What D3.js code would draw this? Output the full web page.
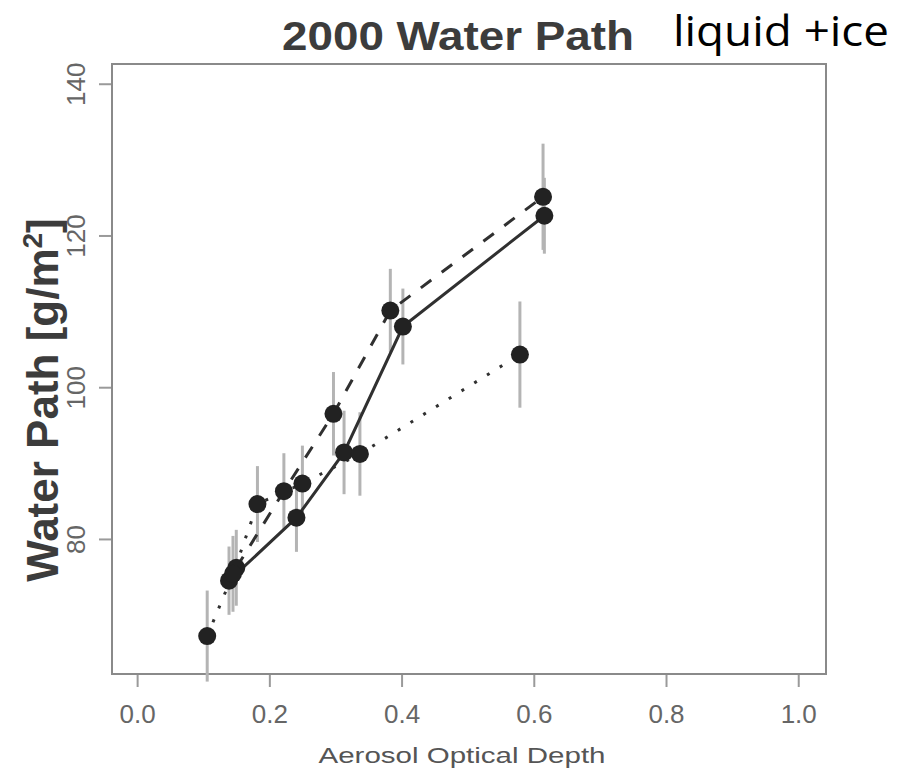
<!DOCTYPE html>
<meta charset="utf-8">
<head>
    <title>2000 Water Path</title>
</head>
<style>
    body { margin: 0; background: #fff; }
    text { font-family: "Liberation Sans", Arial, sans-serif; }
    .frame { fill: none; stroke: #8a8a8a; stroke-width: 2px; }
    .tick line { stroke: #9a9a9a; stroke-width: 2px; }
    .tick text { fill: #666; font-size: 26px; }
    .errbar { stroke: #b4b4b4; stroke-width: 3px; }
    .series { fill: none; stroke: #303030; stroke-width: 3px; }
    .dot { fill: #222; }
</style>
<script src="https://d3js.org/d3.v7.min.js"></script>
<div id="my_viz"></div>
<script>

    // tick labels
    var xTicks = [0.0, 0.2, 0.4, 0.6, 0.8, 1.0];
    var yTicks = [80, 100, 120, 140];

    // solid series
    var solidX   = [0.139, 0.241, 0.313, 0.402, 0.616];
    var solidY   = [74.5, 82.8, 91.4, 108.0, 122.6];
    var solidErr = [4.5, 4.5, 5.5, 5.0, 5.0];

    // dashed series
    var dashedX   = [0.150, 0.222, 0.297, 0.383, 0.614];
    var dashedY   = [76.2, 86.3, 96.5, 110.1, 125.1];
    var dashedErr = [5.0, 5.0, 5.5, 5.5, 7.0];

    // dotted series
    var dottedX   = [0.106, 0.145, 0.182, 0.250, 0.337, 0.579];
    var dottedY   = [67.2, 75.4, 84.6, 87.3, 91.2, 104.3];
    var dottedErr = [6.0, 5.0, 5.0, 5.0, 5.5, 7.0];

    var series = [
        { name: "solid",  xs: solidX,  ys: solidY,  err: solidErr,  dash: null, w: 3 },
        { name: "dashed", xs: dashedX, ys: dashedY, err: dashedErr, dash: "13,13", w: 3 },
        { name: "dotted", xs: dottedX, ys: dottedY, err: dottedErr, dash: "3,12", w: 2.5 }
    ];

    var W = 903, H = 774;
    var plotL = 112, plotR = 826, plotT = 64, plotB = 674;

    var x = d3.scaleLinear().domain([-0.038, 1.042]).range([plotL, plotR]);
    var y = d3.scaleLinear().domain([62.2, 142.6]).range([plotB, plotT]);

    var svg = d3.select("#my_viz")
        .append("svg")
        .attr("width", W)
        .attr("height", H);

    // x axis ticks
    svg.append("g")
        .attr("transform", "translate(0," + plotB + ")")
        .call(d3.axisBottom(x).tickValues(xTicks).tickFormat(d3.format(".1f"))
            .tickSize(13).tickPadding(18))
        .call(g => g.select(".domain").remove());

    // y axis ticks, labels parallel to the axis
    var yAxis = svg.append("g")
        .attr("transform", "translate(" + plotL + ",0)")
        .call(d3.axisLeft(y).tickValues(yTicks).tickSize(13))
        .call(g => g.select(".domain").remove());
    yAxis.selectAll(".tick text")
        .attr("x", null).attr("dy", null)
        .attr("text-anchor", "middle")
        .attr("transform", "translate(-27,0) rotate(-90)");

    // box
    svg.append("rect")
        .attr("class", "frame")
        .attr("x", plotL).attr("y", plotT)
        .attr("width", plotR - plotL).attr("height", plotB - plotT);

    // error bars
    series.forEach(function (s) {
        svg.append("g").selectAll("line")
            .data(s.xs.map((d, i) => ({ x: d, y: s.ys[i], e: s.err[i] })))
            .enter().append("line")
            .attr("class", "errbar")
            .attr("x1", d => x(d.x)).attr("x2", d => x(d.x))
            .attr("y1", d => y(d.y - d.e)).attr("y2", d => y(d.y + d.e));
    });

    // lines
    var line = d3.line().x(d => x(d[0])).y(d => y(d[1]));
    series.forEach(function (s) {
        svg.append("path")
            .datum(s.xs.map((d, i) => [d, s.ys[i]]))
            .attr("class", "series")
            .attr("stroke-dasharray", s.dash)
            .attr("stroke-width", s.w)
            .attr("d", line);
    });

    // points
    series.forEach(function (s) {
        svg.append("g").selectAll("circle")
            .data(s.xs.map((d, i) => [d, s.ys[i]]))
            .enter().append("circle")
            .attr("class", "dot")
            .attr("cx", d => x(d[0]))
            .attr("cy", d => y(d[1]))
            .attr("r", 9);
    });

    // title
    svg.append("text")
        .attr("x", 282).attr("y", 50)
        .attr("textLength", 352).attr("lengthAdjust", "spacingAndGlyphs")
        .attr("font-size", "40px").attr("font-weight", "bold")
        .attr("fill", "#3c3c3c")
        .text("2000 Water Path");

    svg.append("text")
        .attr("x", 673).attr("y", 46)
        .attr("textLength", 216).attr("lengthAdjust", "spacingAndGlyphs")
        .attr("font-size", "42px")
        .style("font-family", "'Open Sans', 'Noto Sans', sans-serif")
        .attr("fill", "#000")
        .text("liquid +ice");

    // x axis title
    svg.append("text")
        .attr("x", 462).attr("y", 763)
        .attr("text-anchor", "middle")
        .attr("textLength", 287).attr("lengthAdjust", "spacingAndGlyphs")
        .attr("font-size", "22px")
        .attr("fill", "#555")
        .text("Aerosol Optical Depth");

    // y axis title
    var yt = svg.append("text")
        .attr("transform", "translate(58,400) rotate(-90)")
        .attr("text-anchor", "middle")
        .attr("font-size", "44px").attr("font-weight", "bold")
        .attr("fill", "#3c3c3c");
    yt.append("tspan").text("Water Path [g/m");
    yt.append("tspan").attr("font-size", "28px").attr("dy", "-16").text("2");
    yt.append("tspan").attr("dy", "16").text("]");

</script>
